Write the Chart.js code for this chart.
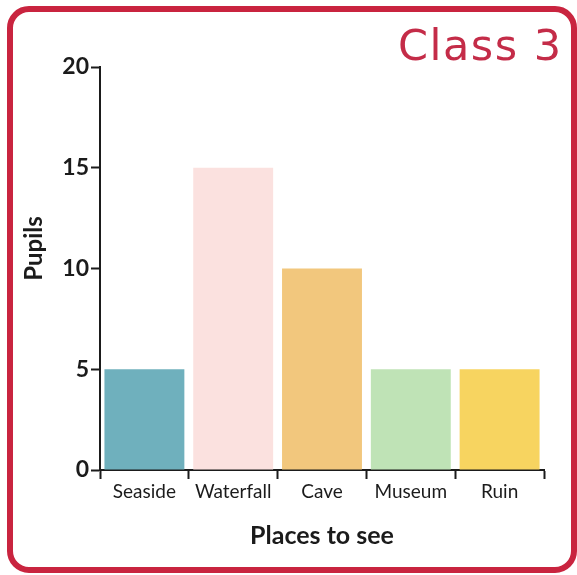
<!DOCTYPE html>
<html>
<head>
<meta charset="utf-8">
<title>Class 3</title>
<script src="https://cdn.jsdelivr.net/npm/chart.js@4"></script>
<style>
    html, body {
        margin: 0;
        padding: 0;
        background: #fff;
    }
    .wrap {
        position: relative;
        width: 577px;
        height: 575px;
        overflow: hidden;
    }
    .frame {
        position: absolute;
        left: 7px;
        top: 6px;
        width: 558px;
        height: 555px;
        border: 6px solid #c9243f;
        border-radius: 22px;
        pointer-events: none;
    }
    .heading {
        position: absolute;
        left: 398px;
        top: 24px;
        line-height: 1;
        font-family: 'DejaVu Sans', sans-serif;
        font-size: 43px;
        color: #c42c48;
        letter-spacing: 1.5px;
        white-space: nowrap;
    }
    canvas {
        position: absolute;
        left: 0;
        top: 0;
    }
</style>
</head>
<body>
<div class="wrap">
    <canvas id="placesChart" width="577" height="575"></canvas>
    <div class="frame"></div>
    <div class="heading">Class 3</div>
</div>
<script>
const places = ['Seaside', 'Waterfall', 'Cave', 'Museum', 'Ruin'];
const pupils = [5, 15, 10, 5, 5];
const barColours = ['#6fb0bd', '#fbe1df', '#f2c77d', '#bfe3b6', '#f7d460'];
const pupilTicks = [0, 5, 10, 15, 20];

const ink = '#1b1b1b';

// y axis caption sits a little above the middle of the axis, so draw it by hand
const pupilsCaption = {
    id: 'pupilsCaption',
    afterDraw(chart) {
        const { ctx, chartArea } = chart;
        const yMid = (chartArea.top + chartArea.bottom) / 2 - 20;
        ctx.save();
        ctx.translate(34, yMid);
        ctx.rotate(-Math.PI / 2);
        ctx.fillStyle = ink;
        ctx.font = 'bold 24px Lato';
        ctx.textAlign = 'center';
        ctx.textBaseline = 'middle';
        ctx.fillText('Pupils', 0, 0);
        ctx.restore();
    }
};

const ctx = document.getElementById('placesChart').getContext('2d');
new Chart(ctx, {
    type: 'bar',
    data: {
        labels: places,
        datasets: [{
            data: pupils,
            backgroundColor: barColours,
            borderWidth: 0,
            barPercentage: 0.9,
            categoryPercentage: 1
        }]
    },
    options: {
        responsive: false,
        animation: false,
        layout: {
            padding: { left: 20, top: 67, right: 33, bottom: 20 }
        },
        plugins: {
            legend: { display: false },
            tooltip: { enabled: false }
        },
        scales: {
            x: {
                offset: true,
                grid: {
                    offset: true,
                    drawOnChartArea: false,
                    tickLength: 9,
                    tickWidth: 2,
                    color: ink
                },
                border: { color: ink, width: 2 },
                ticks: {
                    color: ink,
                    padding: 1,
                    maxRotation: 0,
                    font: { family: 'Lato', size: 19 }
                },
                title: {
                    display: true,
                    text: 'Places to see',
                    color: ink,
                    padding: { top: 12 },
                    font: { family: 'Lato', size: 25, weight: 'bold' }
                },
                afterFit: scale => { scale.height = 85; }
            },
            y: {
                min: 0,
                max: 20,
                afterBuildTicks: scale => {
                    scale.ticks = pupilTicks.map(v => ({ value: v }));
                },
                grid: {
                    drawOnChartArea: false,
                    tickLength: 9,
                    tickWidth: 2,
                    color: ink
                },
                border: { color: ink, width: 2 },
                ticks: {
                    color: ink,
                    padding: 2,
                    font: { family: 'Lato', size: 23, weight: 'bold' }
                },
                afterFit: scale => { scale.width = 80; }
            }
        }
    },
    plugins: [pupilsCaption]
});
</script>
</body>
</html>
